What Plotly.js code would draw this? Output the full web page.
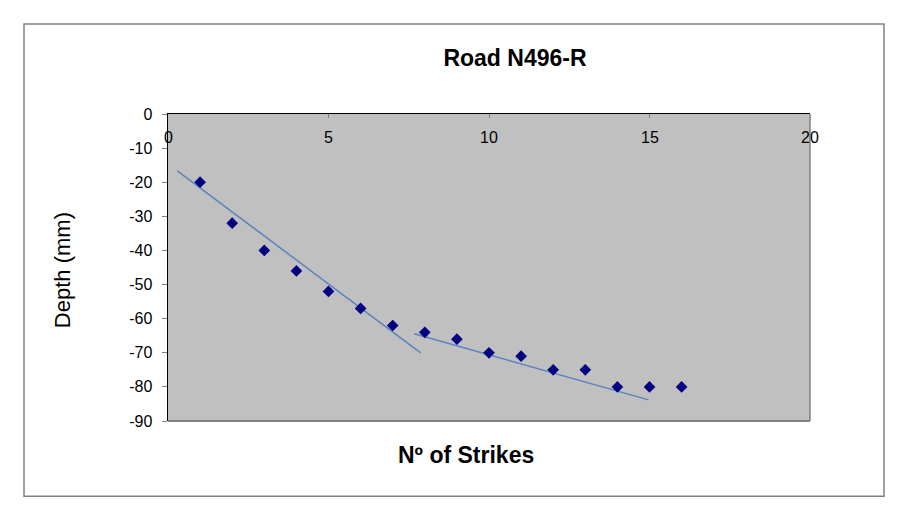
<!DOCTYPE html>
<html>
<head>
<meta charset="utf-8">
<script src="https://cdn.plot.ly/plotly-3.0.1.min.js"></script>
<style>html,body{margin:0;padding:0;background:#fff;}#chart{width:905px;height:524px;}</style>
</head>
<body>
<div id="chart"></div>
<script>
// Data
var strikes = [1, 2, 3, 4, 5, 6, 7, 8, 9, 10, 11, 12, 13, 14, 15, 16];
var depth = [-20, -32, -40, -46, -52, -57, -62, -64, -66, -70, -71, -75, -75, -80, -80, -80];
var trend1X = [0.29, 7.87];
var trend1Y = [-16.7, -70.0];
var trend2X = [7.67, 14.97];
var trend2Y = [-64.4, -83.8];
var xTicks = [0, 5, 10, 15, 20];
var yTicks = [0, -10, -20, -30, -40, -50, -60, -70, -80, -90];
var titleText = 'Road N496-R';
var xTitle = 'N\u00ba of Strikes';
var yTitle = 'Depth (mm)';

var font = 'Arial, "Liberation Sans", sans-serif';

var traces = [
  {x: trend1X, y: trend1Y, mode: 'lines', line: {color: '#5a83c0', width: 1.5}, hoverinfo: 'skip'},
  {x: trend2X, y: trend2Y, mode: 'lines', line: {color: '#5a83c0', width: 1.5}, hoverinfo: 'skip'},
  {x: strikes, y: depth, mode: 'markers', marker: {symbol: 'diamond', size: 9, color: '#000080'}}
];

var annotations = xTicks.map(function (v) {
  return {text: String(v), xref: 'x', yref: 'paper', x: v, y: 1, yshift: -23,
          xanchor: 'center', yanchor: 'middle', showarrow: false,
          font: {size: 16, family: font, color: '#000'}};
});
annotations.push(
  {text: '<b>' + xTitle + '</b>', xref: 'paper', yref: 'paper', x: (466-168)/642, y: (420.7-455)/306.7,
   xanchor: 'center', yanchor: 'middle', showarrow: false, font: {size: 23, family: font, color: '#000'}},
  {text: yTitle, xref: 'paper', yref: 'paper', x: (62-168)/642, y: (420.7-270)/306.7,
   xanchor: 'center', yanchor: 'middle', textangle: -90, showarrow: false, font: {size: 22, family: font, color: '#000'}}
);

var layout = {
  width: 905, height: 524,
  margin: {l: 168, r: 95, t: 114, b: 103},
  paper_bgcolor: '#ffffff',
  plot_bgcolor: '#c0c0c0',
  showlegend: false,
  font: {family: font, color: '#000'},
  title: {text: '<b>' + titleText + '</b>', font: {size: 23, family: font, color: '#000'},
          xref: 'paper', x: 0.5405, xanchor: 'center', yref: 'container', y: 1 - 58/524, yanchor: 'middle'},
  xaxis: {
    range: [0, 20], side: 'top', tickvals: xTicks, showticklabels: false,
    ticks: 'inside', ticklen: 4, tickcolor: '#808080',
    showgrid: false, zeroline: false, showline: true, linecolor: '#000', linewidth: 1.5,
    fixedrange: true
  },
  yaxis: {
    range: [-90, 0], tickvals: yTicks, ticktext: yTicks.map(String),
    ticks: 'outside', ticklen: 5, tickcolor: '#808080', ticklabelstandoff: 6,
    showgrid: false, zeroline: false, showline: true, linecolor: '#000', linewidth: 1.5,
    tickfont: {size: 16, family: font, color: '#000'}, fixedrange: true
  },
  shapes: [
    {type: 'line', xref: 'paper', yref: 'paper', x0: 1, x1: 1, y0: 0, y1: 1, line: {color: '#808080', width: 1.5}},
    {type: 'line', xref: 'paper', yref: 'paper', x0: 0, x1: 1, y0: 0, y1: 0, line: {color: '#808080', width: 2}},
    {type: 'rect', xref: 'paper', yref: 'paper', x0: (24-168)/642, x1: (884-168)/642,
     y0: (420.7-496)/306.7, y1: (420.7-24)/306.7, line: {color: '#808080', width: 1.5}, fillcolor: 'rgba(0,0,0,0)'}
  ],
  annotations: annotations
};

Plotly.newPlot('chart', traces, layout, {displayModeBar: false, staticPlot: true});
</script>
</body>
</html>
